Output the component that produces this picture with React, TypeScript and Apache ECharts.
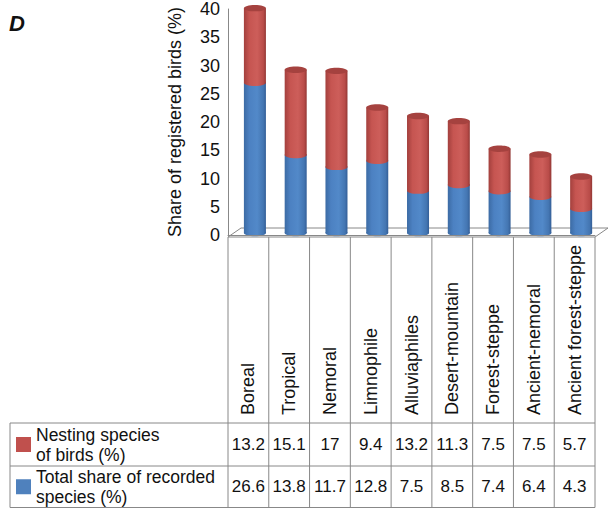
import React, { useEffect, useRef } from 'react';
import * as echarts from 'echarts';

const categories = [
  'Boreal',
  'Tropical',
  'Nemoral',
  'Limnophile',
  'Alluviaphiles',
  'Desert-mountain',
  'Forest-steppe',
  'Ancient-nemoral',
  'Ancient forest-steppe',
];
const nestingSpecies = [13.2, 15.1, 17, 9.4, 13.2, 11.3, 7.5, 7.5, 5.7];
const totalShare = [26.6, 13.8, 11.7, 12.8, 7.5, 8.5, 7.4, 6.4, 4.3];
const nestingName = 'Nesting species\nof birds (%)';
const totalName = 'Total share of recorded\nspecies (%)';
const yAxisName = 'Share of registered birds (%)';
const panelLabel = 'D';

const FONT = '"Liberation Sans", Arial, sans-serif';
const TEXT = '#111';
const LINE = '#888';

const redGrad = {
  type: 'linear', x: 0, y: 0, x2: 1, y2: 0,
  colorStops: [
    { offset: 0, color: '#a3403d' },
    { offset: 0.25, color: '#c65551' },
    { offset: 0.6, color: '#cd5e5a' },
    { offset: 0.88, color: '#b94c49' },
    { offset: 1, color: '#923734' },
  ],
};
const blueGrad = {
  type: 'linear', x: 0, y: 0, x2: 1, y2: 0,
  colorStops: [
    { offset: 0, color: '#3c6ba4' },
    { offset: 0.25, color: '#4c81c2' },
    { offset: 0.6, color: '#5289c9' },
    { offset: 0.88, color: '#4476b2' },
    { offset: 1, color: '#335e97' },
  ],
};

function cylinder(api: any, lowVal: number, highVal: number, fill: any, withTop: boolean) {
  const i = api.value(0);
  const band = api.size([1, 0])[0];
  const w = band * 0.54;
  const dx = band * 0.16;
  const dy = -2;
  const pLow = api.coord([i, lowVal]);
  const pHigh = api.coord([i, highVal]);
  const cx = pLow[0] + dx;
  const yLow = pLow[1] + dy;
  const yHigh = pHigh[1] + dy;
  const ry = 3.2;
  const children: any[] = [
    { type: 'rect', shape: { x: cx - w / 2, y: yHigh, width: w, height: yLow - yHigh }, style: { fill } },
    { type: 'ellipse', shape: { cx, cy: yLow, rx: w / 2, ry }, style: { fill } },
  ];
  if (withTop) {
    children.push({
      type: 'ellipse',
      shape: { cx, cy: yHigh, rx: w / 2, ry },
      style: { fill: '#a5423f' },
    });
  }
  return { type: 'group', children };
}

export default function App() {
  const ref = useRef<HTMLDivElement>(null);
  useEffect(() => {
    document.body.style.margin = '0';
    const chart = echarts.init(ref.current!, null, { renderer: 'svg' });
    chart.setOption({
      animation: false,
      grid: { left: 228, right: 14, top: 5, bottom: 273, containLabel: false },
      xAxis: {
        type: 'category',
        data: categories,
        offset: 2,
        z: 5,
        axisLine: { show: true, lineStyle: { color: LINE, width: 1 } },
        axisTick: { show: false },
        axisLabel: {
          interval: 0,
          rotate: 90,
          margin: 178,
          align: 'left',
          verticalAlign: 'middle',
          fontSize: 18,
          fontFamily: FONT,
          color: TEXT,
        },
      },
      yAxis: {
        type: 'value',
        min: 0,
        max: 40,
        interval: 5,
        name: yAxisName,
        nameLocation: 'middle',
        nameGap: 44,
        nameTextStyle: { fontSize: 18, fontFamily: FONT, color: TEXT },
        axisLine: { show: true, lineStyle: { color: LINE } },
        axisTick: { show: false },
        splitLine: { show: false },
        axisLabel: { fontSize: 18, fontFamily: FONT, color: TEXT, margin: 8 },
      },
      series: [
        {
          type: 'custom',
          name: totalName,
          data: categories.map((_, i) => [i, totalShare[i]]),
          renderItem: (_p: any, api: any) => cylinder(api, 0, api.value(1), blueGrad, false),
          z: 3,
        },
        {
          type: 'custom',
          name: nestingName,
          data: categories.map((_, i) => [i, totalShare[i], nestingSpecies[i]]),
          renderItem: (_p: any, api: any) =>
            cylinder(api, api.value(1), api.value(1) + api.value(2), redGrad, true),
          z: 4,
        },
      ],
    });

    const xs = categories.map((c) => chart.convertToPixel({ xAxisIndex: 0 }, c) as number);
    const band = xs.length > 1 ? xs[1] - xs[0] : 40;
    const left = xs[0] - band / 2;
    const right = xs[xs.length - 1] + band / 2;
    const y0 = (chart.convertToPixel({ yAxisIndex: 0 }, 0) as number) + 2;
    const tableLeft = 10;
    const row1 = 423;
    const row2 = 466;
    const row3 = 507.5;
    const depth = 13;
    const rise = 9;

    const graphics: any[] = [
      {
        type: 'polygon',
        z: -1,
        shape: {
          points: [
            [left, y0],
            [left + depth, y0 - rise],
            [right + depth, y0 - rise],
            [right, y0],
          ],
        },
        style: { fill: 'none', stroke: LINE, lineWidth: 1 },
      },
      {
        type: 'text',
        left: 9,
        top: 12,
        style: { text: panelLabel, font: `italic bold 22px ${FONT}`, fill: TEXT },
      },
    ];
    [row1, row2, row3].forEach((y) => {
      graphics.push({
        type: 'line',
        z: 1,
        shape: { x1: tableLeft, y1: y, x2: right, y2: y },
        style: { stroke: LINE, lineWidth: 1 },
      });
    });
    [tableLeft, ...xs.map((x) => x - band / 2), right].forEach((x) => {
      graphics.push({
        type: 'line',
        z: 1,
        shape: { x1: x, y1: x === tableLeft ? row1 : y0, x2: x, y2: row3 },
        style: { stroke: LINE, lineWidth: 1 },
      });
    });
    const rows = [
      { name: nestingName, color: '#C0504D', values: nestingSpecies, top: row1, bottom: row2 },
      { name: totalName, color: '#4F81BD', values: totalShare, top: row2, bottom: row3 },
    ];
    rows.forEach((r) => {
      const cy = (r.top + r.bottom) / 2;
      graphics.push({
        type: 'rect',
        shape: { x: 16, y: cy - 7.5, width: 15, height: 15 },
        style: { fill: r.color },
      });
      graphics.push({
        type: 'text',
        x: 36,
        y: cy,
        style: {
          text: r.name,
          font: `17.5px ${FONT}`,
          fill: TEXT,
          textAlign: 'left',
          textVerticalAlign: 'middle',
          lineHeight: 20,
        },
      });
      r.values.forEach((v, i) => {
        graphics.push({
          type: 'text',
          x: xs[i],
          y: cy,
          style: {
            text: String(v),
            font: `17px ${FONT}`,
            fill: TEXT,
            textAlign: 'center',
            textVerticalAlign: 'middle',
          },
        });
      });
    });
    chart.setOption({ graphic: graphics });

    return () => chart.dispose();
  }, []);
  return <div ref={ref} style={{ width: 609, height: 508 }} />;
}
